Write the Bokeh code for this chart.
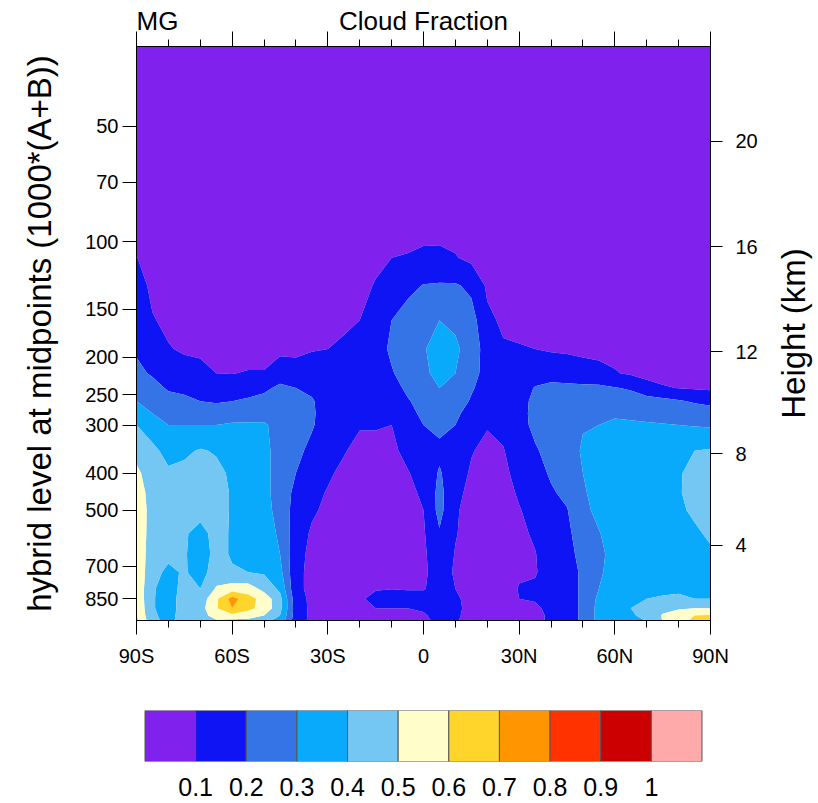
import numpy as np
from bokeh.plotting import figure
from bokeh.models import (Range1d, FixedTicker, LinearAxis, LogAxis,
                          BasicTickFormatter)
from bokeh.layouts import column, row
from bokeh.embed import file_html
from bokeh.resources import INLINE

# ---------------- data ----------------
lats = [-90, -85, -80, -75, -70, -65, -60, -55, -50, -45, -40, -35, -30, -25,
        -20, -15, -10, -5, 0, 5, 10, 15, 20, 25, 30, 35, 40, 45, 50, 55, 60,
        65, 70, 75, 80, 85, 90]

levels_hpa = [30, 60, 90, 110, 130, 160, 190, 220, 240, 260, 280, 300, 350,
              400, 450, 500, 575, 650, 725, 800, 850, 900, 940, 975]

# cloud fraction profile (top -> bottom, one value per level) for each latitude
cloud_by_lat = [
    [0.02, 0.05, 0.08, 0.102, 0.13, 0.16, 0.19, 0.22, 0.26, 0.30, 0.35, 0.40, 0.47, 0.52, 0.55, 0.57, 0.58, 0.58, 0.58, 0.58, 0.58, 0.59, 0.60, 0.63],
    [0.02, 0.04, 0.06, 0.07, 0.085, 0.105, 0.15, 0.19, 0.23, 0.265, 0.30, 0.34, 0.43, 0.45, 0.46, 0.46, 0.45, 0.44, 0.43, 0.41, 0.41, 0.41, 0.42, 0.43],
    [0.02, 0.03, 0.05, 0.06, 0.07, 0.085, 0.105, 0.155, 0.19, 0.23, 0.27, 0.30, 0.36, 0.42, 0.45, 0.46, 0.45, 0.42, 0.38, 0.36, 0.35, 0.35, 0.36, 0.37],
    [0.02, 0.03, 0.05, 0.06, 0.065, 0.075, 0.09, 0.135, 0.18, 0.22, 0.26, 0.30, 0.38, 0.43, 0.45, 0.44, 0.41, 0.41, 0.41, 0.43, 0.45, 0.45, 0.45, 0.45],
    [0.02, 0.03, 0.04, 0.05, 0.06, 0.07, 0.085, 0.125, 0.16, 0.20, 0.25, 0.30, 0.41, 0.44, 0.45, 0.43, 0.37, 0.35, 0.36, 0.40, 0.44, 0.46, 0.46, 0.45],
    [0.02, 0.03, 0.04, 0.05, 0.055, 0.065, 0.075, 0.10, 0.15, 0.19, 0.25, 0.30, 0.39, 0.43, 0.44, 0.44, 0.43, 0.43, 0.45, 0.51, 0.58, 0.59, 0.54, 0.48],
    [0.02, 0.03, 0.04, 0.045, 0.05, 0.06, 0.075, 0.098, 0.15, 0.20, 0.26, 0.31, 0.36, 0.38, 0.39, 0.39, 0.39, 0.39, 0.41, 0.55, 0.74, 0.70, 0.57, 0.45],
    [0.02, 0.03, 0.04, 0.045, 0.05, 0.06, 0.07, 0.105, 0.16, 0.215, 0.27, 0.31, 0.34, 0.35, 0.35, 0.35, 0.36, 0.37, 0.40, 0.55, 0.64, 0.62, 0.55, 0.45],
    [0.02, 0.03, 0.04, 0.045, 0.05, 0.06, 0.07, 0.105, 0.18, 0.23, 0.27, 0.31, 0.32, 0.32, 0.32, 0.32, 0.33, 0.35, 0.39, 0.47, 0.56, 0.57, 0.50, 0.42],
    [0.02, 0.03, 0.04, 0.05, 0.055, 0.065, 0.08, 0.15, 0.22, 0.24, 0.26, 0.27, 0.27, 0.27, 0.27, 0.28, 0.29, 0.30, 0.33, 0.38, 0.43, 0.43, 0.40, 0.36],
    [0.02, 0.03, 0.04, 0.05, 0.06, 0.07, 0.08, 0.14, 0.20, 0.22, 0.24, 0.25, 0.23, 0.20, 0.17, 0.15, 0.14, 0.13, 0.12, 0.12, 0.14, 0.15, 0.15, 0.14],
    [0.02, 0.03, 0.04, 0.05, 0.06, 0.07, 0.095, 0.14, 0.18, 0.21, 0.215, 0.21, 0.17, 0.14, 0.12, 0.11, 0.09, 0.08, 0.08, 0.08, 0.08, 0.08, 0.08, 0.08],
    [0.02, 0.03, 0.04, 0.05, 0.065, 0.08, 0.10, 0.13, 0.14, 0.15, 0.15, 0.15, 0.13, 0.11, 0.095, 0.085, 0.07, 0.06, 0.06, 0.06, 0.06, 0.06, 0.06, 0.06],
    [0.02, 0.03, 0.045, 0.06, 0.075, 0.09, 0.11, 0.13, 0.135, 0.14, 0.135, 0.13, 0.105, 0.085, 0.07, 0.06, 0.05, 0.05, 0.05, 0.05, 0.055, 0.055, 0.05, 0.05],
    [0.02, 0.03, 0.05, 0.065, 0.08, 0.10, 0.125, 0.14, 0.135, 0.13, 0.12, 0.105, 0.08, 0.065, 0.055, 0.05, 0.045, 0.045, 0.05, 0.07, 0.09, 0.08, 0.06, 0.05],
    [0.02, 0.04, 0.07, 0.085, 0.105, 0.13, 0.15, 0.16, 0.15, 0.14, 0.12, 0.105, 0.08, 0.065, 0.055, 0.05, 0.05, 0.055, 0.065, 0.095, 0.12, 0.10, 0.08, 0.07],
    [0.02, 0.045, 0.065, 0.10, 0.14, 0.20, 0.22, 0.19, 0.16, 0.14, 0.12, 0.10, 0.085, 0.075, 0.07, 0.065, 0.065, 0.07, 0.08, 0.098, 0.13, 0.10, 0.08, 0.07],
    [0.03, 0.05, 0.07, 0.105, 0.17, 0.25, 0.27, 0.25, 0.22, 0.19, 0.17, 0.15, 0.12, 0.095, 0.085, 0.08, 0.08, 0.08, 0.085, 0.095, 0.13, 0.10, 0.08, 0.07],
    [0.03, 0.06, 0.075, 0.115, 0.205, 0.27, 0.29, 0.28, 0.26, 0.24, 0.22, 0.20, 0.16, 0.13, 0.11, 0.10, 0.09, 0.085, 0.085, 0.095, 0.13, 0.11, 0.09, 0.08],
    [0.03, 0.06, 0.07, 0.12, 0.21, 0.30, 0.35, 0.33, 0.30, 0.27, 0.245, 0.22, 0.18, 0.21, 0.23, 0.23, 0.19, 0.16, 0.14, 0.13, 0.14, 0.14, 0.13, 0.12],
    [0.03, 0.06, 0.07, 0.105, 0.21, 0.28, 0.32, 0.30, 0.28, 0.25, 0.22, 0.20, 0.16, 0.14, 0.12, 0.11, 0.105, 0.095, 0.09, 0.10, 0.12, 0.13, 0.12, 0.11],
    [0.02, 0.04, 0.06, 0.08, 0.18, 0.24, 0.25, 0.23, 0.21, 0.19, 0.16, 0.14, 0.105, 0.09, 0.08, 0.07, 0.07, 0.065, 0.06, 0.06, 0.06, 0.06, 0.06, 0.06],
    [0.02, 0.035, 0.05, 0.065, 0.085, 0.12, 0.16, 0.17, 0.16, 0.14, 0.12, 0.105, 0.08, 0.065, 0.06, 0.05, 0.05, 0.05, 0.05, 0.05, 0.05, 0.05, 0.05, 0.05],
    [0.02, 0.03, 0.045, 0.055, 0.07, 0.085, 0.11, 0.14, 0.15, 0.15, 0.135, 0.12, 0.095, 0.08, 0.07, 0.065, 0.06, 0.06, 0.06, 0.06, 0.06, 0.06, 0.06, 0.06],
    [0.02, 0.03, 0.04, 0.05, 0.06, 0.08, 0.105, 0.14, 0.16, 0.17, 0.17, 0.17, 0.15, 0.13, 0.11, 0.095, 0.085, 0.08, 0.09, 0.105, 0.10, 0.085, 0.08, 0.08],
    [0.02, 0.03, 0.04, 0.05, 0.06, 0.08, 0.10, 0.16, 0.205, 0.22, 0.225, 0.22, 0.19, 0.17, 0.15, 0.13, 0.11, 0.097, 0.095, 0.11, 0.105, 0.09, 0.085, 0.085],
    [0.02, 0.03, 0.04, 0.05, 0.06, 0.075, 0.09, 0.17, 0.22, 0.24, 0.25, 0.25, 0.23, 0.21, 0.19, 0.17, 0.15, 0.14, 0.13, 0.125, 0.12, 0.115, 0.11, 0.11],
    [0.02, 0.03, 0.04, 0.05, 0.06, 0.07, 0.085, 0.16, 0.22, 0.25, 0.26, 0.27, 0.26, 0.24, 0.22, 0.195, 0.175, 0.16, 0.15, 0.15, 0.15, 0.15, 0.15, 0.15],
    [0.02, 0.03, 0.04, 0.05, 0.06, 0.07, 0.08, 0.14, 0.22, 0.25, 0.27, 0.295, 0.31, 0.30, 0.29, 0.28, 0.26, 0.24, 0.22, 0.22, 0.22, 0.22, 0.22, 0.22],
    [0.02, 0.03, 0.04, 0.05, 0.06, 0.07, 0.075, 0.13, 0.22, 0.25, 0.27, 0.30, 0.33, 0.34, 0.33, 0.32, 0.295, 0.28, 0.285, 0.30, 0.32, 0.33, 0.33, 0.33],
    [0.02, 0.03, 0.04, 0.05, 0.06, 0.07, 0.08, 0.105, 0.205, 0.25, 0.285, 0.32, 0.34, 0.35, 0.35, 0.35, 0.34, 0.33, 0.34, 0.35, 0.36, 0.37, 0.37, 0.37],
    [0.02, 0.03, 0.04, 0.05, 0.06, 0.07, 0.075, 0.09, 0.19, 0.245, 0.28, 0.315, 0.35, 0.36, 0.36, 0.36, 0.35, 0.34, 0.35, 0.37, 0.39, 0.40, 0.39, 0.38],
    [0.02, 0.03, 0.04, 0.05, 0.06, 0.065, 0.07, 0.07, 0.14, 0.24, 0.275, 0.31, 0.35, 0.36, 0.37, 0.37, 0.36, 0.35, 0.36, 0.38, 0.40, 0.43, 0.42, 0.40],
    [0.02, 0.03, 0.04, 0.05, 0.055, 0.06, 0.065, 0.065, 0.11, 0.23, 0.27, 0.305, 0.36, 0.37, 0.38, 0.38, 0.37, 0.36, 0.36, 0.38, 0.41, 0.47, 0.51, 0.50],
    [0.02, 0.03, 0.04, 0.05, 0.055, 0.06, 0.06, 0.06, 0.097, 0.21, 0.26, 0.30, 0.37, 0.39, 0.39, 0.38, 0.37, 0.36, 0.36, 0.38, 0.42, 0.49, 0.55, 0.56],
    [0.02, 0.03, 0.04, 0.05, 0.055, 0.06, 0.06, 0.06, 0.09, 0.19, 0.25, 0.295, 0.40, 0.43, 0.44, 0.42, 0.38, 0.36, 0.36, 0.38, 0.40, 0.50, 0.60, 0.63],
    [0.02, 0.03, 0.04, 0.05, 0.055, 0.06, 0.06, 0.06, 0.085, 0.175, 0.245, 0.29, 0.41, 0.45, 0.46, 0.46, 0.42, 0.38, 0.37, 0.38, 0.40, 0.50, 0.61, 0.64],
]

contour_levels = [-0.01, 0.1, 0.2, 0.3, 0.4, 0.5, 0.6, 0.7, 0.8, 0.9, 1.0, 1.2]
fill_colors = ["#8121EE", "#0F14F4", "#3574E6", "#09A9FB", "#74C7F2",
               "#FFFDCA", "#FFD52B", "#FF9500", "#FF3200", "#CC0000", "#FFAAAA"]
bar_labels = ["0.1", "0.2", "0.3", "0.4", "0.5", "0.6", "0.7", "0.8", "0.9", "1"]

lat_ticks = [-90, -60, -30, 0, 30, 60, 90]
lat_labels = ["90S", "60S", "30S", "0", "30N", "60N", "90N"]
lat_minor = [-80, -70, -50, -40, -20, -10, 10, 20, 40, 50, 70, 80]
p_ticks = [50, 70, 100, 150, 200, 250, 300, 400, 500, 700, 850]
height_km = [4, 8, 12, 16, 20]

main_title = "Cloud Fraction"
left_title = "MG"
right_title = "Height (km)"


def std_atm_pressure(z_km):
    """US standard atmosphere pressure (hPa) at height z (km)."""
    z = z_km * 1000.0
    if z <= 11000.0:
        return 1013.25 * (1.0 - 0.0065 * z / 288.15) ** 5.25588
    return 226.32 * np.exp(-(z - 11000.0) * 9.80665 / (287.053 * 216.65))


height_press = [round(float(std_atm_pressure(h)), 4) for h in height_km]

FONT = "Liberation Sans"
BL, BR = 136, 56           # borders of the main figure -> frame 136..710
FRAME_W = 574
W_MAIN = BL + FRAME_W + BR  # 766
H_MAIN = 690
TOP, BOTTOM = 46, 70
P_BOTTOM, P_TOP = 968, 31

# ---------------- main plot ----------------
p = figure(width=W_MAIN, height=H_MAIN, x_range=Range1d(-90, 90),
           y_range=Range1d(P_BOTTOM, P_TOP), y_axis_type="log",
           output_backend="svg", toolbar_location=None,
           min_border_left=BL, min_border_right=BR,
           min_border_top=TOP, min_border_bottom=BOTTOM)
p.grid.visible = False
p.outline_line_color = "black"
p.outline_line_width = 1

z = np.array(cloud_by_lat).T
p.contour(x=lats, y=levels_hpa, z=z, levels=contour_levels,
          fill_color=fill_colors, line_color=None)


def style_axis(ax, tick_out, minor_out, font_size="20px", standoff=4):
    ax.major_tick_out = tick_out
    ax.major_tick_in = 0
    ax.minor_tick_out = minor_out
    ax.minor_tick_in = 0
    ax.axis_line_color = "black"
    ax.major_tick_line_color = "black"
    ax.minor_tick_line_color = "black"
    ax.major_label_text_font = FONT
    ax.major_label_text_font_size = font_size
    ax.major_label_text_color = "black"
    ax.major_label_standoff = standoff


# bottom axis
xax = p.xaxis[0]
xax.ticker = FixedTicker(ticks=lat_ticks, minor_ticks=lat_minor)
xax.major_label_overrides = dict(zip(lat_ticks, lat_labels))
style_axis(xax, 14, 7, standoff=10)

# top axis (ticks only, no labels)
tax = LinearAxis(ticker=FixedTicker(ticks=lat_ticks, minor_ticks=lat_minor))
style_axis(tax, 15, 7, font_size="1px", standoff=0)
tax.major_label_text_color = None
p.add_layout(tax, "above")

# title row: "MG" left-aligned with the frame, "Cloud Fraction" centred
mg_half_width_px = 0.5 * 1.611 * 26          # half text width in pixels
mg_x = -90 + mg_half_width_px * 180.0 / FRAME_W
title_ax = LinearAxis(ticker=FixedTicker(ticks=[mg_x, 0], minor_ticks=[]),
                      major_label_overrides={mg_x: left_title, 0: main_title})
title_ax.axis_line_color = None
title_ax.major_tick_line_color = None
title_ax.minor_tick_line_color = None
title_ax.major_tick_out = 0
title_ax.major_tick_in = 0
title_ax.minor_tick_out = 0
title_ax.minor_tick_in = 0
title_ax.major_label_standoff = -4
title_ax.major_label_text_font = FONT
title_ax.major_label_text_font_size = "26px"
title_ax.major_label_text_color = "black"
p.add_layout(title_ax, "above")

# left axis
yax = p.yaxis[0]
yax.ticker = FixedTicker(ticks=p_ticks, minor_ticks=[])
yax.formatter = BasicTickFormatter()
style_axis(yax, 14, 0, standoff=4)
yax.axis_label = "hybrid level at midpoints (1000*(A+B))"
yax.axis_label_text_font = FONT
yax.axis_label_text_font_size = "33px"
yax.axis_label_text_font_style = "normal"
yax.axis_label_text_color = "black"
yax.axis_label_standoff = 24

# right axis (height ticks)
rax = LogAxis(ticker=FixedTicker(ticks=height_press, minor_ticks=[]),
              major_label_overrides={hp: str(h) for hp, h in zip(height_press, height_km)})
style_axis(rax, 12, 0, standoff=13)
p.add_layout(rax, "right")

# ---------------- right title strip (reads bottom-to-top) ----------------
RW = 50
rfig = figure(width=RW, height=H_MAIN, x_range=Range1d(0, 1),
              y_range=Range1d(0, 1), x_axis_location=None,
              output_backend="svg", toolbar_location=None,
              min_border_left=RW - 1, min_border_right=0,
              min_border_top=TOP, min_border_bottom=BOTTOM)
rfig.grid.visible = False
rfig.outline_line_color = None
ray = rfig.yaxis[0]
ray.ticker = FixedTicker(ticks=[], minor_ticks=[])
ray.axis_line_color = None
ray.major_tick_line_color = None
ray.minor_tick_line_color = None
ray.major_tick_out = 0
ray.major_tick_in = 0
ray.minor_tick_out = 0
ray.minor_tick_in = 0
ray.major_label_text_font_size = "1px"
ray.major_label_standoff = 0
ray.axis_label = right_title
ray.axis_label_text_font = FONT
ray.axis_label_text_font_size = "33px"
ray.axis_label_text_font_style = "normal"
ray.axis_label_text_color = "black"
ray.axis_label_standoff = 4

# ---------------- colour bar ----------------
n_box = len(fill_colors)
box_left = list(range(n_box))
box_right = [b + 1 for b in box_left]
pad = 0.168  # boxes span 145..702 inside the 136..710 frame
cb = figure(width=W_MAIN, height=112, x_range=Range1d(-pad, n_box + pad),
            y_range=Range1d(0, 1), output_backend="svg", toolbar_location=None,
            min_border_left=BL, min_border_right=BR,
            min_border_top=20, min_border_bottom=41)
cb.grid.visible = False
cb.outline_line_color = None
cb.yaxis.visible = False
cb.quad(left=box_left, right=box_right, bottom=0, top=1,
        fill_color=fill_colors, line_color="#555555", line_width=1)
cax = cb.xaxis[0]
cax.ticker = FixedTicker(ticks=box_right[:-1], minor_ticks=[])
cax.major_label_overrides = dict(zip(box_right[:-1], bar_labels))
cax.axis_line_color = None
cax.major_tick_line_color = None
cax.minor_tick_line_color = None
cax.major_label_text_font = FONT
cax.major_label_text_font_size = "25px"
cax.major_label_text_color = "black"
cax.major_label_standoff = 10

layout = column(row(p, rfig, spacing=0), cb, spacing=0)
open("out.html", "w").write(file_html(layout, INLINE))
